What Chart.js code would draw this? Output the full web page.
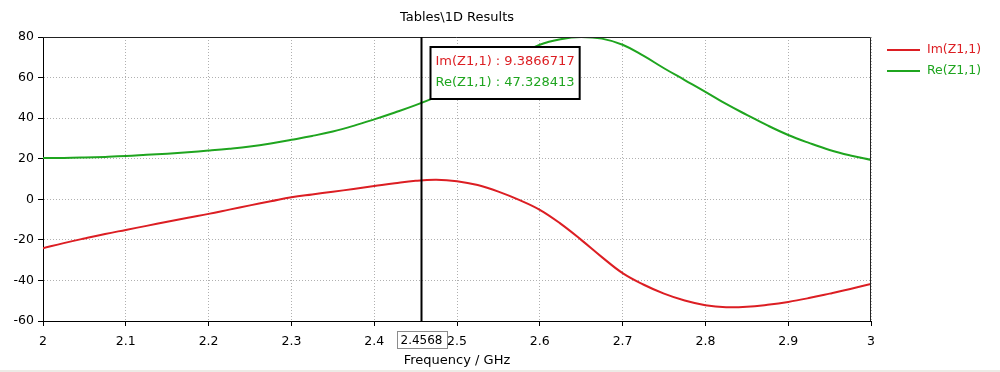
<!DOCTYPE html>
<html>
<head>
<meta charset="utf-8">
<title>Tables\1D Results</title>
<script src="https://cdn.jsdelivr.net/npm/chart.js@4/dist/chart.umd.min.js"></script>
<style>
  html,body{margin:0;padding:0;background:#fff;}
  #wrap{width:1000px;height:372px;position:relative;}
  #franja{position:absolute;left:0;bottom:0;width:1000px;height:2px;background:#ecebe6;}
</style>
</head>
<body>
<div id="wrap">
  <canvas id="chartZ" width="1000" height="372"></canvas>
  <div id="franja"></div>
</div>
<script>
//----Datos
const frecuencias = [2.000, 2.025, 2.050, 2.075, 2.100, 2.125, 2.150, 2.175, 2.200, 2.225,
                     2.250, 2.275, 2.300, 2.325, 2.350, 2.375, 2.400, 2.425, 2.450, 2.475,
                     2.500, 2.525, 2.550, 2.575, 2.600, 2.625, 2.650, 2.675, 2.700, 2.725,
                     2.750, 2.775, 2.800, 2.825, 2.850, 2.875, 2.900, 2.925, 2.950, 2.975, 3.000];
const imZ = [-24.1, -21.6, -19.3, -17.1, -15.1, -13.1, -11.1, -9.1, -7.2, -5.1,
             -3.0, -1.0, 1.0, 2.4, 3.7, 5.1, 6.5, 7.9, 9.1, 9.6,
             8.9, 7.0, 3.8, -0.3, -5.2, -12.0, -20.0, -28.5, -36.4, -42.0,
             -46.5, -49.9, -52.2, -53.2, -53.0, -52.0, -50.6, -48.7, -46.5, -44.2, -41.7];
const reZ = [20.4, 20.4, 20.6, 20.9, 21.3, 21.9, 22.5, 23.2, 24.0, 24.9,
             26.0, 27.5, 29.3, 31.2, 33.4, 36.2, 39.4, 42.8, 46.4, 50.5,
             55.0, 60.0, 65.5, 71.0, 76.2, 78.9, 80.0, 79.2, 76.2, 70.8,
             64.6, 58.8, 53.0, 47.0, 41.6, 36.4, 31.7, 27.8, 24.3, 21.6, 19.4];
const series = ["Im(Z1,1)", "Re(Z1,1)"];
const xTicks = [2, 2.1, 2.2, 2.3, 2.4, 2.5, 2.6, 2.7, 2.8, 2.9, 3];
const yTicks = [-60, -40, -20, 0, 20, 40, 60, 80];
const marcadorFrec = 2.4568;
const marcadorIm = "9.3866717";
const marcadorRe = "47.328413";

const ROJO = "#dc1e23";
const VERDE = "#1fa51f";
const FUENTE = "'DejaVu Sans', sans-serif";

//----Titulo, leyenda, marcador y cuadro de valores
const extras = {
    id: "extras",
    afterDatasetsDraw(chart) {
        const {ctx, chartArea: a, scales} = chart;
        const px = Math.round(scales.x.getPixelForValue(marcadorFrec)) + 0.5;
        ctx.save();

        // marco superior y derecho
        ctx.strokeStyle = "#222";
        ctx.lineWidth = 1;
        ctx.beginPath();
        ctx.moveTo(a.left, a.top + 0.5);
        ctx.lineTo(a.right - 0.5, a.top + 0.5);
        ctx.lineTo(a.right - 0.5, a.bottom);
        ctx.stroke();

        // linea del marcador
        ctx.strokeStyle = "#000";
        ctx.lineWidth = 2;
        ctx.beginPath();
        ctx.moveTo(px, a.top);
        ctx.lineTo(px, a.bottom);
        ctx.stroke();

        // cuadro con valores
        ctx.font = "13px " + FUENTE;
        const t1 = series[0] + " : " + marcadorIm;
        const t2 = series[1] + " : " + marcadorRe;
        const w = Math.max(ctx.measureText(t1).width, ctx.measureText(t2).width) + 10;
        const bx = px + 9, by = a.top + 10;
        ctx.fillStyle = "#fff";
        ctx.fillRect(bx, by, w, 52);
        ctx.strokeStyle = "#000";
        ctx.lineWidth = 2;
        ctx.strokeRect(bx, by, w, 52);
        ctx.textBaseline = "middle";
        ctx.textAlign = "left";
        ctx.fillStyle = ROJO;
        ctx.fillText(t1, bx + 5, by + 15);
        ctx.fillStyle = VERDE;
        ctx.fillText(t2, bx + 5, by + 36);

        // etiqueta del marcador sobre el eje x
        ctx.font = "12px " + FUENTE;
        const et = String(marcadorFrec);
        const ew = ctx.measureText(et).width + 8;
        ctx.fillStyle = "#fff";
        ctx.fillRect(px - ew / 2, a.bottom + 10, ew, 17);
        ctx.strokeStyle = "#8c8c8c";
        ctx.lineWidth = 1;
        ctx.strokeRect(Math.round(px - ew / 2) + 0.5, a.bottom + 10.5, Math.round(ew), 17);
        ctx.fillStyle = "#000";
        ctx.textAlign = "center";
        ctx.fillText(et, px, a.bottom + 19.5);

        // titulo
        ctx.font = "13px " + FUENTE;
        ctx.fillStyle = "#000";
        ctx.fillText("Tables\\1D Results", (a.left + a.right) / 2, 18);

        // leyenda
        ctx.font = "12.5px " + FUENTE;
        const colores = [ROJO, VERDE];
        ctx.textAlign = "left";
        series.forEach((s, i) => {
            const ly = 50 + i * 21;
            ctx.strokeStyle = colores[i];
            ctx.lineWidth = 2;
            ctx.beginPath();
            ctx.moveTo(887, ly);
            ctx.lineTo(920, ly);
            ctx.stroke();
            ctx.fillStyle = colores[i];
            ctx.fillText(s, 927, ly);
        });
        ctx.restore();
    }
};

new Chart(document.getElementById("chartZ"), {
    type: "line",
    data: {
        datasets: [{
            label: series[0],
            data: frecuencias.map((f, i) => ({x: f, y: imZ[i]})),
            borderColor: ROJO,
            borderWidth: 2,
            pointRadius: 0,
            tension: 0.4
        }, {
            label: series[1],
            data: frecuencias.map((f, i) => ({x: f, y: reZ[i]})),
            borderColor: VERDE,
            borderWidth: 2,
            pointRadius: 0,
            tension: 0.4
        }]
    },
    options: {
        responsive: false,
        animation: false,
        layout: {padding: {top: 37, right: 129, bottom: 0, left: 0}},
        plugins: {
            legend: {display: false},
            tooltip: {enabled: false}
        },
        scales: {
            x: {
                type: "linear",
                min: 2,
                max: 3,
                afterBuildTicks: s => { s.ticks = xTicks.map(v => ({value: v})); },
                afterFit: s => { s.height = 51; },
                ticks: {
                    color: "#000",
                    font: {family: FUENTE, size: 12.5},
                    padding: 8,
                    maxRotation: 0,
                    callback: v => String(v)
                },
                grid: {color: "#b0b0b0", tickLength: 5, tickColor: "#000", tickBorderDash: []},
                border: {color: "#000", width: 1, dash: [1, 2]},
                title: {
                    display: true,
                    text: "Frequency / GHz",
                    color: "#000",
                    font: {family: FUENTE, size: 13},
                    padding: {top: 0, bottom: 4}
                }
            },
            y: {
                min: -60,
                max: 80,
                afterBuildTicks: s => { s.ticks = yTicks.map(v => ({value: v})); },
                afterFit: s => { s.width = 43; },
                ticks: {
                    color: "#000",
                    font: {family: FUENTE, size: 12.5},
                    padding: 4
                },
                grid: {color: "#b0b0b0", tickLength: 5, tickColor: "#000", tickBorderDash: []},
                border: {color: "#000", width: 1, dash: [1, 2]}
            }
        }
    },
    plugins: [extras]
});
</script>
</body>
</html>
